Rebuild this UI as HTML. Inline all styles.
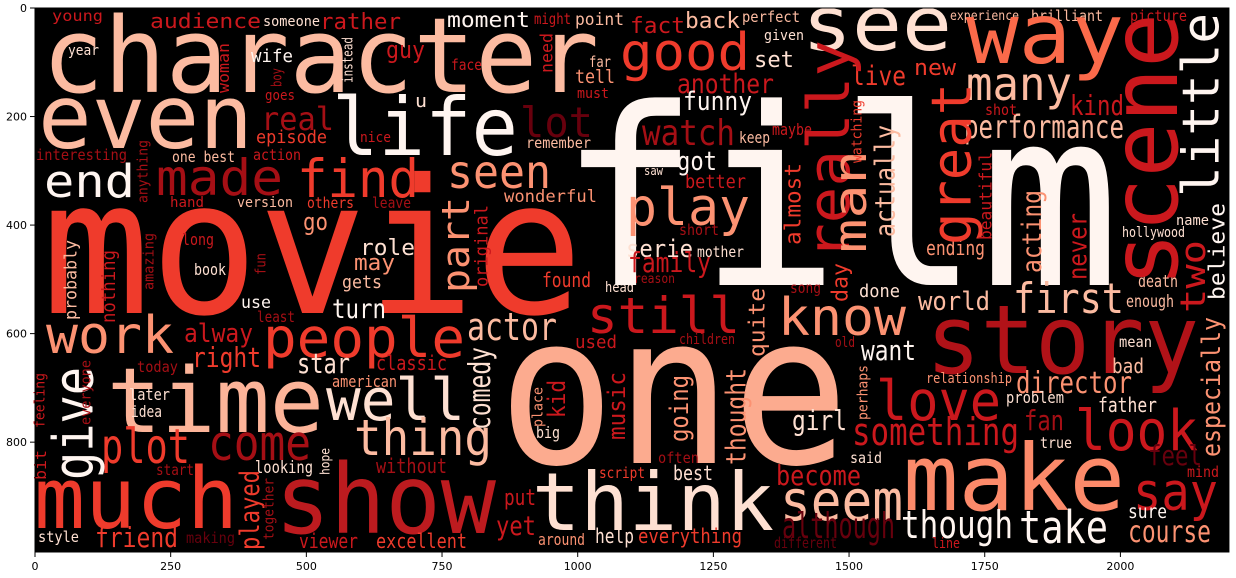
<!DOCTYPE html>
<html><head><meta charset="utf-8"><style>
html,body{margin:0;padding:0;background:#fff;}
svg{display:block;}
</style></head><body>
<svg id="chart" width="1236" height="578" viewBox="0 0 1236 578" xmlns="http://www.w3.org/2000/svg">
<rect x="35" y="8" width="1194" height="544" fill="#000"/>
<g id="words" font-family="'DejaVu Sans Mono','Liberation Mono',monospace"></g>
<g id="axes" font-family="'DejaVu Sans','Liberation Sans',sans-serif" font-size="11" fill="#000"></g>
</svg>
<script>
const xTicks=[0,250,500,750,1000,1250,1500,1750,2000];
const yTicks=[0,200,400,600,800];
const words=[
["young",52,103,21,15,"#cb181d"],["character",42,599,92,104,"#fcbba1"],["audience",150,261,28,20,"#cb181d"],
["someone",263,320,26,14,"#fee0d2"],["rather",320,401,29,22,"#cb181d"],["moment",447,530,27,21,"#fff5f0"],
["might",534,571,24,15,"#cb181d"],["point",575,624,25,17,"#fcbba1"],["year",68,99,55,14,"#fee0d2"],
["wife",251,293,62,18,"#fff5f0"],["guy",386,425,58,24,"#cb181d"],["face",451,482,70,15,"#cb181d"],
["far",589,611,67,15,"#fcbba1"],["tell",575,615,83,19,"#fc9272"],["must",577,609,98,14,"#cb181d"],
["goes",265,295,100,14,"#cb181d"],["u",415,427,107,18,"#fee0d2"],["even",38,253,148,88,"#fcbba1"],
["life",332,518,155,80,"#fff5f0"],["real",261,334,130,32,"#a50f15"],["episode",256,327,143,18,"#ef3b2c"],
["nice",360,391,142,14,"#cb181d"],["lot",520,593,137,42,"#67000d"],["remember",526,591,148,15,"#fcbba1"],
["interesting",36,127,160,15,"#a50f15"],["one best",172,235,162,15,"#fcbba1"],["action",253,301,160,15,"#cb181d"],
["end",44,135,197,45,"#fff5f0"],["made",156,283,195,50,"#a50f15"],["find",297,419,197,53,"#ef3b2c"],
["seen",447,551,188,46,"#fc9272"],["wonderful",504,597,202,17,"#fc9272"],["hand",170,204,207,14,"#cb181d"],
["version",237,293,207,14,"#fcbba1"],["others",307,354,208,15,"#ef3b2c"],["leave",372,411,208,15,"#a50f15"],
["movie",42,583,313,187,"#ef3b2c"],["go",303,328,230,24,"#fc9272"],["long",182,214,245,16,"#cb181d"],
["role",360,415,255,22,"#fee0d2"],["may",354,395,270,22,"#fc9272"],["book",194,226,275,16,"#fee0d2"],
["gets",342,382,288,18,"#fcbba1"],["found",542,591,287,20,"#ef3b2c"],["head",605,634,292,14,"#fee0d2"],
["film",559,1120,285,247,"#fff5f0"],
["fact",630,685,33,22,"#cb181d"],["back",685,740,28,22,"#fcbba1"],["perfect",742,800,22,15,"#fcbba1"],
["see",802,952,50,75,"#fee0d2"],["experience",950,1019,20,13,"#fcbba1"],["brilliant",1031,1103,21,15,"#fcbba1"],
["picture",1130,1187,21,15,"#cb181d"],["way",966,1124,63,84,"#fb6a4a"],["given",764,804,40,14,"#fee0d2"],
["good",620,750,70,52,"#ef3b2c"],["set",754,794,67,22,"#fee0d2"],["another",677,774,93,27,"#cb181d"],
["new",914,956,75,22,"#ef3b2c"],["live",851,906,85,27,"#ef3b2c"],["many",966,1072,100,46,"#fcbba1"],
["kind",1070,1124,115,28,"#cb181d"],["funny",683,752,110,26,"#fff5f0"],["watch",642,735,145,36,"#a50f15"],
["keep",739,770,143,16,"#fcbba1"],["maybe",772,812,135,16,"#cb181d"],["performance",964,1124,138,32,"#fcbba1"],
["shot",985,1017,115,15,"#cb181d"],["got",677,717,170,26,"#fff5f0"],["saw",644,663,175,12,"#fee0d2"],
["better",685,746,188,19,"#cb181d"],["play",626,750,225,52,"#fc9272"],["short",679,719,235,15,"#a50f15"],
["serie",626,693,257,24,"#fee0d2"],["mother",697,744,257,15,"#fee0d2"],["family",628,711,272,28,"#cb181d"],
["reason",634,675,283,13,"#a50f15"],["ending",926,985,255,20,"#fc9272"],["name",1176,1209,225,14,"#fee0d2"],
["hollywood",1122,1185,237,14,"#fee0d2"],["death",1138,1178,287,17,"#fcbba1"],
["use",241,271,308,17,"#fff5f0"],["least",257,295,322,15,"#a50f15"],["turn",332,386,318,27,"#fff5f0"],
["work",46,174,353,52,"#fc9272"],["alway",184,253,342,26,"#cb181d"],["people",263,465,357,55,"#ef3b2c"],
["actor",467,557,340,38,"#fcbba1"],["still",587,740,333,50,"#cb181d"],["used",575,617,348,18,"#cb181d"],
["today",137,178,372,15,"#a50f15"],["right",192,261,367,28,"#ef3b2c"],["star",297,350,373,28,"#fee0d2"],
["classic",376,447,370,20,"#cb181d"],["american",332,397,387,16,"#fc9272"],["time",107,324,432,90,"#fcb499"],
["well",326,465,420,58,"#fee0d2"],["later",129,170,400,16,"#fee0d2"],["idea",131,162,417,16,"#fee0d2"],
["thing",354,492,455,50,"#fcbba1"],["plot",101,190,463,48,"#ef3b2c"],["come",208,311,460,49,"#a50f15"],
["looking",255,313,473,17,"#fee0d2"],["start",156,194,475,15,"#a50f15"],["without",376,447,473,20,"#a50f15"],
["much",34,238,528,85,"#ef3b2c"],["show",275,496,533,96,"#bd1b1f"],["put",504,536,505,22,"#cb181d"],
["yet",496,536,535,27,"#cb181d"],["style",38,79,542,15,"#fee0d2"],["friend",95,178,547,28,"#ef3b2c"],
["making",186,235,543,15,"#67000d"],["viewer",299,358,548,20,"#cb181d"],["excellent",376,467,548,20,"#ef3b2c"],
["around",538,585,545,16,"#fc9272"],["help",595,634,543,20,"#fee0d2"],["script",599,645,478,15,"#ef3b2c"],
["think",532,774,530,80,"#fee0d2"],["one",498,849,463,208,"#fcab8f"],["big",536,560,438,16,"#fee0d2"],
["everything",638,742,543,20,"#ef3b2c"],
["know",778,906,335,52,"#fc9272"],["song",790,821,293,15,"#a50f15"],["done",859,900,297,18,"#fee0d2"],
["world",918,990,310,26,"#fcbba1"],["first",1013,1124,313,42,"#fcbba1"],["enough",1126,1174,307,17,"#fcbba1"],
["children",679,735,344,14,"#a50f15"],["old",835,855,347,14,"#a50f15"],["story",926,1199,373,95,"#b11218"],
["want",861,916,360,28,"#fff5f0"],["mean",1119,1152,347,15,"#fee0d2"],["bad",1112,1144,373,20,"#fcbba1"],
["relationship",926,1012,383,14,"#fc9272"],["director",1016,1132,393,30,"#fc9272"],["love",876,1001,420,55,"#cb181d"],
["problem",1006,1064,403,16,"#fee0d2"],["father",1098,1157,412,20,"#fee0d2"],["girl",792,847,430,28,"#fee0d2"],
["something",852,1019,445,38,"#cb181d"],["fan",1024,1064,430,28,"#a50f15"],["look",1075,1198,450,56,"#cb181d"],
["true",1040,1072,448,15,"#fee0d2"],["feel",1148,1202,465,28,"#67000d"],["often",658,699,463,15,"#a50f15"],
["said",850,882,463,15,"#fee0d2"],["best",673,713,480,20,"#fee0d2"],["become",776,861,485,28,"#cb181d"],
["mind",1187,1219,477,15,"#cb181d"],["make",903,1125,510,92,"#fc8a6a"],["seem",780,903,520,56,"#fcbba1"],
["say",1133,1218,510,52,"#cb181d"],["sure",1128,1167,518,19,"#fff5f0"],["though",901,1013,538,38,"#fff5f0"],
["take",1019,1108,543,45,"#fff5f0"],["although",782,895,538,36,"#67000d"],["course",1128,1211,542,30,"#fc9272"],
["different",774,837,548,15,"#67000d"],["line",932,960,548,14,"#cb181d"]
];
/* vertical words: word, xLeft, yTop, yBottom, fontSize, color */
const vwords=[
["woman",220,43,93,16,"#cb181d"],["boy",271,68,87,14,"#a50f15"],["instead",342,37,83,14,"#fee0d2"],
["need",540,33,73,17,"#cb181d"],["anything",137,140,203,14,"#a50f15"],["part",441,197,293,38,"#fc9272"],
["original",474,205,287,18,"#cb181d"],["probably",64,240,320,17,"#fcbba1"],["nothing",101,250,323,19,"#cb181d"],
["amazing",143,233,290,14,"#a50f15"],["fun",255,253,275,14,"#a50f15"],
["really",806,40,260,58,"#cb181d"],["man",841,150,253,45,"#fc9272"],["almost",784,163,245,22,"#ef3b2c"],
["actually",874,125,237,28,"#fcbba1"],["watching",851,100,163,14,"#ef3b2c"],["great",930,83,245,55,"#ef3b2c"],
["beautiful",979,152,240,17,"#cb181d"],["acting",1021,190,273,27,"#fc9272"],["never",1072,213,280,26,"#cb181d"],
["scene",1126,13,287,93,"#cb181d"],["little",1181,13,197,51,"#fff5f0"],["two",1179,240,313,35,"#cb181d"],
["believe",1208,203,300,22,"#fff5f0"],["day",831,263,302,22,"#ef3b2c"],
["give",52,367,480,55,"#fff5f0"],["feeling",34,373,428,14,"#cb181d"],["bit",34,450,480,16,"#cb181d"],
["everyone",83,360,425,14,"#a50f15"],["comedy",468,347,430,30,"#fee0d2"],["kid",547,380,418,24,"#cb181d"],
["place",532,387,427,14,"#fc9272"],["music",607,372,440,24,"#cb181d"],["hope",320,448,475,13,"#fee0d2"],
["played",239,470,550,27,"#ef3b2c"],["together",263,478,540,14,"#a50f15"],
["quite",748,288,357,22,"#fc9272"],["going",669,375,442,26,"#fc9272"],["thought",725,368,465,28,"#fc9272"],
["perhaps",857,365,420,14,"#fc9272"],["especially",1201,317,457,26,"#fc9272"]
];
const NS="http://www.w3.org/2000/svg";
const X0=35,Y0=8,S=0.5427;
function xs(v){return X0+v*S;}
function ys(v){return Y0+v*S;}
const gw=document.getElementById('words');
words.forEach(w=>{
  const t=document.createElementNS(NS,'text');
  
  
  t.setAttribute('x',w[1]);t.setAttribute('y',w[3]);
  t.setAttribute('font-size',w[4]);t.setAttribute('fill',w[5]);
  t.setAttribute('textLength',w[2]-w[1]);t.setAttribute('lengthAdjust','spacingAndGlyphs');
  t.textContent=w[0];gw.appendChild(t);
});
vwords.forEach(w=>{
  const t=document.createElementNS(NS,'text');
  
  
  const asc=/[bdfhiklt]/.test(w[0])?0.74:0.55;
  const bx=w[1]+asc*w[4];
  t.setAttribute('transform','translate('+bx+','+w[3]+') rotate(-90)');
  t.setAttribute('font-size',w[4]);t.setAttribute('fill',w[5]);
  t.setAttribute('textLength',w[3]-w[2]);t.setAttribute('lengthAdjust','spacingAndGlyphs');
  t.textContent=w[0];gw.appendChild(t);
});
const ga=document.getElementById('axes');
const frame=document.createElementNS(NS,'rect');


frame.setAttribute('x',X0);frame.setAttribute('y',Y0);frame.setAttribute('width',2200*S);frame.setAttribute('height',544);
frame.setAttribute('fill','none');frame.setAttribute('stroke','#000');frame.setAttribute('stroke-width','1');
ga.appendChild(frame);
const yb=Y0+544;
xTicks.forEach(v=>{
  const l=document.createElementNS(NS,'line');
  
  
  l.setAttribute('x1',xs(v));l.setAttribute('x2',xs(v));l.setAttribute('y1',yb);l.setAttribute('y2',yb+5);
  l.setAttribute('stroke','#000');ga.appendChild(l);
  const t=document.createElementNS(NS,'text');
  
  
  t.setAttribute('x',xs(v));t.setAttribute('y',yb+18);t.setAttribute('text-anchor','middle');
  t.textContent=v;ga.appendChild(t);
});
yTicks.forEach(v=>{
  const l=document.createElementNS(NS,'line');
  
  
  l.setAttribute('x1',X0-5);l.setAttribute('x2',X0);l.setAttribute('y1',ys(v));l.setAttribute('y2',ys(v));
  l.setAttribute('stroke','#000');ga.appendChild(l);
  const t=document.createElementNS(NS,'text');
  
  
  t.setAttribute('x',X0-8);t.setAttribute('y',ys(v)+4);t.setAttribute('text-anchor','end');
  t.textContent=v;ga.appendChild(t);
});
</script>
</body></html>
